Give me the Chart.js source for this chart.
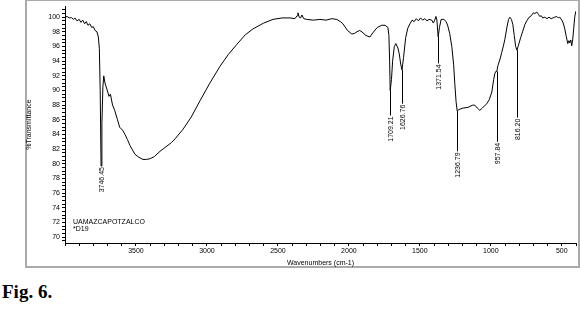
<!DOCTYPE html>
<html>
<head>
<meta charset="utf-8">
<script src="https://cdn.jsdelivr.net/npm/chart.js@4.4.1/dist/chart.umd.min.js"></script>
<style>
  body { margin: 0; background: #fff; width: 580px; height: 311px; position: relative; overflow: hidden; }
  #frame { position: absolute; left: 25px; top: 0; width: 551px; height: 265px; border: 2px solid #aaa; border-top-width: 1px; }
  #chart { position: absolute; left: 0; top: 0; }
  #fig { position: absolute; left: 2px; top: 281px; font: bold 19px "Liberation Serif", serif; color: #000; }
</style>
</head>
<body>
<div id="frame"></div>
<canvas id="chart" width="580" height="270"></canvas>
<div id="fig">Fig. 6.</div>
<script>
// spectrum
const wavenumbers = [
  4000, 3985, 3970, 3955, 3940, 3930, 3915, 3900, 3888, 3875, 3862, 3850, 3838, 3825, 3812, 3800,
  3788, 3775, 3765, 3758, 3752, 3746, 3740, 3733, 3727, 3718, 3705, 3690, 3680, 3665, 3650, 3630,
  3615, 3595, 3577, 3560, 3542, 3525, 3507, 3480, 3451, 3425, 3400, 3370, 3331, 3290, 3250, 3225,
  3169, 3110, 3049, 2980, 2908, 2850, 2789, 2730, 2676, 2600, 2535, 2470, 2416, 2380, 2365, 2359,
  2350, 2340, 2331, 2318, 2296, 2250, 2204, 2160, 2120, 2085, 2060, 2042, 2010, 1979, 1960, 1944,
  1925, 1908, 1880, 1852, 1830, 1800, 1768, 1745, 1725, 1718, 1713, 1709, 1700, 1692, 1680, 1669,
  1655, 1645, 1635, 1626, 1615, 1600, 1585, 1570, 1555, 1540, 1525, 1510, 1495, 1480, 1465, 1450,
  1435, 1416, 1405, 1395, 1387, 1380, 1371, 1362, 1350, 1331, 1315, 1303, 1290, 1275, 1262, 1254,
  1245, 1237, 1225, 1197, 1160, 1130, 1113, 1095, 1078, 1060, 1040, 1028, 1010, 993, 980, 972,
  965, 958, 950, 935, 923, 910, 901, 885, 875, 866, 855, 845, 835, 825, 816, 805,
  790, 775, 760, 747, 730, 715, 700, 690, 676, 665, 655, 645, 634, 620, 605, 590,
  575, 563, 550, 535, 525, 514, 500, 490, 479, 470, 458, 450, 444, 437, 430, 423,
  416, 409, 402
];
const transmittance = [
  100.0, 100.1, 99.9, 99.95, 99.7, 99.9, 99.5, 99.7, 99.3, 99.6, 99.1, 99.4, 98.9, 99.1, 98.6, 98.7,
  98.2, 98.0, 97.3, 95.7, 90.0, 79.7, 85.5, 90.5, 92.0, 91.0, 90.2, 89.2, 89.5, 88.0, 87.3, 86.0,
  85.0, 84.6, 84.0, 83.3, 82.5, 81.9, 81.3, 80.9, 80.6, 80.6, 80.7, 81.0, 81.7, 82.3, 82.9, 83.4,
  84.7, 86.4, 88.6, 91.0, 93.3, 94.9, 96.3, 97.6, 98.4, 99.2, 99.7, 99.9, 99.9, 99.8, 100.2, 100.6,
  100.0, 99.9, 100.3, 99.8, 99.7, 99.6, 99.7, 99.6, 99.8, 99.7, 99.4, 99.1, 98.2, 97.7, 97.8, 98.0,
  98.2, 98.0, 97.5, 97.3, 97.9, 98.6, 98.9, 98.9, 98.6, 97.5, 94.0, 90.0, 91.5, 94.0, 96.0, 96.4,
  95.8, 95.0, 93.6, 92.8, 94.5, 97.2, 98.5, 99.1, 99.6, 99.4, 99.8, 99.5, 99.9, 99.6, 99.8, 99.5,
  99.7, 99.6, 99.2, 99.6, 100.1, 99.6, 97.3, 98.6, 99.7, 99.7, 99.4, 98.8, 97.8, 96.0, 93.5, 91.0,
  88.5, 87.2, 87.4, 87.6, 87.7, 88.0, 88.0, 87.6, 87.3, 87.6, 88.0, 88.2, 88.8, 89.8, 91.5, 92.3,
  92.6, 92.6, 93.4, 94.3, 95.2, 96.2, 97.0, 98.8, 99.7, 100.0, 99.7, 99.0, 97.5, 96.0, 95.5, 96.2,
  97.2, 98.1, 99.0, 99.5, 100.0, 100.2, 100.6, 100.5, 100.7, 100.4, 100.1, 100.2, 99.9, 100.0, 99.8, 100.0,
  99.8, 99.9, 100.0, 100.1, 99.9, 100.0, 99.6, 99.2, 98.4, 97.5, 96.4, 96.8, 96.5, 96.9, 96.1, 97.0,
  98.5, 100.0, 100.8
];

// marked peaks: position, curve value at the dip, where the leader ends, label
const peakWn = [3746, 1709, 1626, 1371, 1237, 958, 816];
const peakT = [79.7, 90.0, 92.8, 97.3, 87.2, 92.6, 95.5];
const peakLabelT = [79.7, 86.6, 88.2, 93.7, 81.7, 83.0, 86.3];
const peakText = ['3746.45', '1709.21', '1626.76', '1371.54', '1236.79', '957.84', '816.20'];

// axis ticks
const xTicks = [];
for (let v = 4000; v >= 400; v -= 100) xTicks.push(v);
const yTicks = [];
for (let v = 69.5; v <= 101; v += 0.5) yTicks.push(v);

const FONT = '"Liberation Sans", Arial, sans-serif';

const peakLabels = {
  id: 'peakLabels',
  afterDatasetsDraw(chart) {
    const { ctx, scales: { x, y }, chartArea } = chart;
    ctx.save();
    ctx.strokeStyle = '#000';
    ctx.lineWidth = 1;
    ctx.fillStyle = '#000';
    ctx.font = '7px ' + FONT;
    peakWn.forEach((wn, i) => {
      const px = Math.round(x.getPixelForValue(wn)) + 0.5;
      const y1 = y.getPixelForValue(peakT[i]);
      const y2 = y.getPixelForValue(peakLabelT[i]);
      ctx.beginPath();
      ctx.moveTo(px, y1);
      ctx.lineTo(px, y2);
      ctx.stroke();
      ctx.save();
      ctx.translate(px + 1, y2 + 1);
      ctx.rotate(-Math.PI / 2);
      ctx.textAlign = 'right';
      ctx.textBaseline = 'middle';
      ctx.fillText(peakText[i], 0, 0);
      ctx.restore();
    });
    // sample note, lower left
    ctx.textAlign = 'left';
    ctx.textBaseline = 'middle';
    ctx.fillText('UAMAZCAPOTZALCO', chartArea.left + 8, 222);
    ctx.fillText('*D19', chartArea.left + 8, 229);
    ctx.restore();
  }
};

new Chart(document.getElementById('chart'), {
  type: 'line',
  data: {
    datasets: [{
      data: wavenumbers.map((w, i) => ({ x: w, y: transmittance[i] })),
      borderColor: '#000',
      borderWidth: 1,
      pointRadius: 0,
      tension: 0,
      fill: false
    }]
  },
  options: {
    responsive: false,
    animation: false,
    layout: { padding: { left: 25, top: 2, right: 4, bottom: 3 } },
    plugins: { legend: { display: false }, tooltip: { enabled: false } },
    scales: {
      x: {
        type: 'linear',
        reverse: true,
        min: 400,
        max: 4000,
        afterBuildTicks: s => { s.ticks = xTicks.map(v => ({ value: v })); },
        afterFit: s => { s.height = 24; },
        ticks: {
          autoSkip: false,
          maxRotation: 0,
          padding: 1,
          color: '#000',
          font: { family: FONT, size: 7 },
          callback: v => (v % 500 === 0 && v < 4000) ? String(v) : ''
        },
        grid: { drawOnChartArea: false, tickLength: 3, color: '#000' },
        border: { color: '#000', width: 1 },
        title: {
          display: true,
          text: 'Wavenumbers (cm-1)',
          color: '#000',
          font: { family: FONT, size: 7 },
          padding: { top: 0, bottom: 0 }
        }
      },
      y: {
        min: 69.2,
        max: 101.5,
        afterBuildTicks: s => { s.ticks = yTicks.map(v => ({ value: v })); },
        afterFit: s => { s.width = 40; },
        ticks: {
          autoSkip: false,
          padding: 2,
          color: '#000',
          font: { family: FONT, size: 7 },
          callback: v => (Number.isInteger(v) && v % 2 === 0) ? String(v) : ''
        },
        grid: { drawOnChartArea: false, tickLength: 3, color: '#000' },
        border: { color: '#000', width: 1 },
        title: {
          display: true,
          text: '%Transmittance',
          color: '#000',
          font: { family: FONT, size: 7 },
          padding: 0
        }
      }
    }
  },
  plugins: [peakLabels]
});
</script>
</body>
</html>
